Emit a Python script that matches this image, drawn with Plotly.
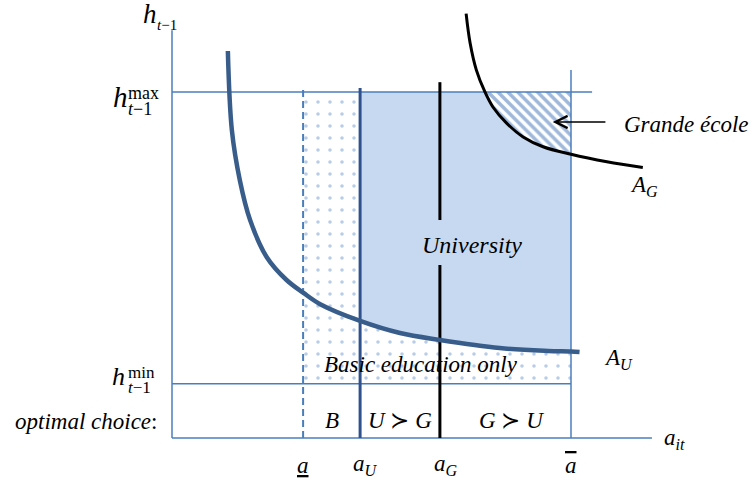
import plotly.graph_objects as go

# key values on the two axes
a_low, a_U, a_G, a_bar = 2.3, 3.3, 4.7, 7.0
h_min, h_max = 0.94, 6.0

# A_U threshold curve
au_a = [0.98, 1.05, 1.19, 1.37, 1.66, 2.01, 2.3, 2.6, 3.3, 4.0, 4.7, 5.75, 6.6, 7.0, 7.15]
au_h = [6.71, 5.34, 4.47, 3.78, 3.14, 2.74, 2.52, 2.32, 2.03, 1.82, 1.70, 1.56, 1.51, 1.50, 1.49]

# A_G threshold curve
ag_a = [5.16, 5.23, 5.34, 5.49, 5.63, 5.87, 6.16, 6.51, 7.0, 7.63, 8.26]
ag_h = [7.36, 6.85, 6.38, 6.0, 5.74, 5.46, 5.22, 5.05, 4.92, 4.79, 4.69]

BLUE = '#4a7ebb'
FILL = '#c6d9f1'
DARK = '#385d8a'
FONT = 'Liberation Serif'

fig = go.Figure()

# basic education region (dotted): rectangle minus university region
uni = [(a, h) for a, h in zip(au_a, au_h) if a_U <= a <= a_bar]
bx = [a_low, a_low, a_U] + [p[0] for p in uni] + [a_bar, a_low]
by = [h_min, h_max, h_max] + [p[1] for p in uni] + [h_min, h_min]
fig.add_trace(go.Scatter(x=bx, y=by, fill='toself', mode='lines', line=dict(width=0),
                         fillcolor='white',
                         fillpattern=dict(shape='.', fgcolor='#6f9ad3', bgcolor='white',
                                          size=12, solidity=0.07)))

# university region
ux = [p[0] for p in uni] + [a_bar, a_U, uni[0][0]]
uy = [p[1] for p in uni] + [h_max, h_max, uni[0][1]]
fig.add_trace(go.Scatter(x=ux, y=uy, fill='toself', mode='lines', line=dict(width=0),
                         fillcolor=FILL))

# grande ecole region (hatched)
ge = [(a, h) for a, h in zip(ag_a, ag_h) if a <= a_bar and h <= h_max]
gx = [p[0] for p in ge] + [a_bar, ge[0][0]]
gy = [p[1] for p in ge] + [h_max, ge[0][1]]
fig.add_trace(go.Scatter(x=gx, y=gy, fill='toself', mode='lines', line=dict(width=0),
                         fillcolor='white',
                         fillpattern=dict(shape='\\', fgcolor='#3f72b5', bgcolor='white',
                                          size=7, solidity=0.5)))

def seg(x, y, color=BLUE, width=1.5, dash='solid'):
    fig.add_trace(go.Scatter(x=x, y=y, mode='lines',
                             line=dict(color=color, width=width, dash=dash)))

# axes and frame lines
seg([0, 0], [0, 7.07])
seg([0, 8.42], [0, 0])
seg([0, 7.37], [h_max, h_max])
seg([0, a_bar], [h_min, h_min])
seg([a_low, a_low], [0, 6.07], width=2, dash='7px,4px')
seg([a_bar, a_bar], [0, 6.38])
seg([a_U, a_U], [0, 6.07], color='#2f528f', width=3)
seg([a_G, a_G], [3.0, 0], color='black', width=3)
seg([a_G, a_G], [6.17, 3.78], color='black', width=3)

# threshold curves
fig.add_trace(go.Scatter(x=au_a, y=au_h, mode='lines', line=dict(color=DARK, width=4.5, shape='spline')))
fig.add_trace(go.Scatter(x=ag_a, y=ag_h, mode='lines', line=dict(color='black', width=3, shape='spline')))

def txt(x, y, s, size=23, xanchor='center'):
    fig.add_annotation(x=x, y=y, text=s, showarrow=False, xanchor=xanchor, yanchor='middle',
                       font=dict(family=FONT, size=size, color='black'))

# y-axis labels
txt(-0.39, 7.35, '<i>h</i>', size=27)
txt(-0.30, 7.17, '<i>t</i>−1', size=15, xanchor='left')
txt(-0.91, h_max - 0.08, '<i>h</i>', size=29)
txt(-0.81, h_max - 0.02, 'max', size=18, xanchor='left')
txt(-0.81, h_max - 0.29, '<i>t</i>−1', size=18, xanchor='left')
txt(-0.93, h_min + 0.12, '<i>h</i>', size=26)
txt(-0.81, h_min + 0.20, 'min', size=17, xanchor='left')
txt(-0.81, h_min - 0.07, '<i>t</i>−1', size=17, xanchor='left')
txt(-0.23, 0.28, '<i>optimal choice</i>:', xanchor='right')

# x-axis labels
txt(a_low, -0.47, '<i><u>a</u></i>')
txt(a_U + 0.1, -0.47, '<i>a<sub>U</sub></i>')
txt(a_G + 0.1, -0.47, '<i>a<sub>G</sub></i>')
txt(a_bar, -0.47, '<i><span style="text-decoration:overline">a</span></i>')
txt(8.82, -0.02, '<i>a<sub>it</sub></i>')

# regions and choices
txt((a_low + a_U) / 2, 0.31, '<i>B</i>')
txt((a_U + a_G) / 2, 0.31, '<i>U</i> ≻ <i>G</i>')
txt((a_G + a_bar) / 2 + 0.1, 0.31, '<i>G</i> ≻ <i>U</i>')
txt(5.26, 3.35, '<i>University</i>', size=24)
txt(4.37, 1.28, '<i>Basic education only</i>')
txt(7.54, 1.37, '<i>A<sub>U</sub></i>', xanchor='left')
txt(8.0, 4.37, '<i>A<sub>G</sub></i>', xanchor='left')
txt(7.89, 5.44, '<i>Grande école</i>', xanchor='left')

fig.add_annotation(x=6.68, y=5.48, ax=7.63, ay=5.48, axref='x', ayref='y', xref='x', yref='y',
                   text='', showarrow=True, arrowhead=5, arrowsize=1.6, arrowwidth=1.5,
                   arrowcolor='black')

fig.update_layout(width=752, height=486, margin=dict(l=0, r=0, t=0, b=0),
                  showlegend=False, plot_bgcolor='white', paper_bgcolor='white')
fig.update_xaxes(range=[-3.0175, 10.1754], visible=False)
fig.update_yaxes(range=[-0.8323, 7.595], visible=False)

fig.write_html('out.html', config={'displayModeBar': False},
               post_script="document.body.style.margin='0';")
